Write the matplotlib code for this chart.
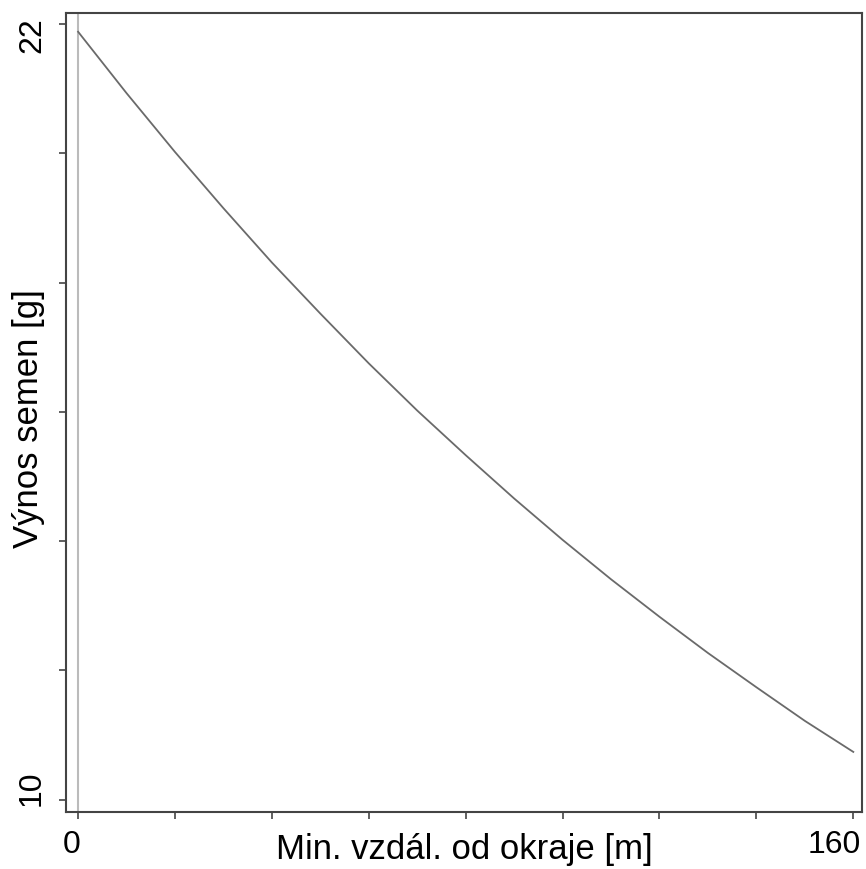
import numpy as np
import matplotlib.pyplot as plt

plt.rcParams['font.family'] = ['Liberation Sans', 'DejaVu Sans']

# values
distance = [0, 10, 20, 30, 40, 50, 60, 70, 80, 90, 100, 110, 120, 130, 140, 150, 160]
seed_yield = [21.88, 20.93, 20.02, 19.15, 18.31, 17.52, 16.75, 16.02, 15.33,
              14.66, 14.02, 13.41, 12.83, 12.27, 11.74, 11.22, 10.74]
xticks = [0, 20, 40, 60, 80, 100, 120, 140, 160]
yticks = [10, 12, 14, 16, 18, 20, 22]
xlabeled = {0: '0', 160: '160'}
ylabeled = {10: '10', 22: '22'}

PX = 0.72  # points per pixel at dpi 100


def main():
    fig = plt.figure(figsize=(8.66, 8.70), dpi=100)
    ax = fig.add_axes([0.0762, 0.0655, 0.9192, 0.9184])

    ax.axvline(0, color='#bbbbbb', lw=1.5, zorder=1)
    ax.plot(distance, seed_yield, color='#6a6a6a', lw=1.3, zorder=2)

    ax.set_xlim(-2.5, 161.8)
    ax.set_ylim(9.81, 22.17)
    ax.set_xticks(xticks)
    ax.set_yticks(yticks)
    ax.set_xticklabels([])
    ax.set_yticklabels([])
    ax.tick_params(direction='out', length=5, width=1.2, color='#444444')

    # tick labels nudged inward like the original
    xshift = {0: -6, 160: -19}
    for v, s in xlabeled.items():
        ax.annotate(s, xy=(v, 0), xycoords=('data', 'axes fraction'),
                    xytext=(xshift[v] * PX, -32 * PX), textcoords='offset points',
                    ha='center', va='center', fontsize=23)
    yshift = {10: 12, 22: -10}
    for v, s in ylabeled.items():
        ax.annotate(s, xy=(0, v), xycoords=('axes fraction', 'data'),
                    xytext=(-34 * PX, yshift[v] * PX), textcoords='offset points',
                    ha='center', va='center', rotation=90, fontsize=23)

    for sp in ax.spines.values():
        sp.set_color('#444444')
        sp.set_linewidth(1.5)

    ax.set_xlabel('Min. vzdál. od okraje [m]', fontsize=25, va='center')
    ax.xaxis.set_label_coords(0.5, -0.0455)
    ax.set_ylabel('Výnos semen [g]', fontsize=25, va='center')
    ax.yaxis.set_label_coords(-0.0465, 0.494)

    plt.savefig('out.png', dpi=100)


main()
